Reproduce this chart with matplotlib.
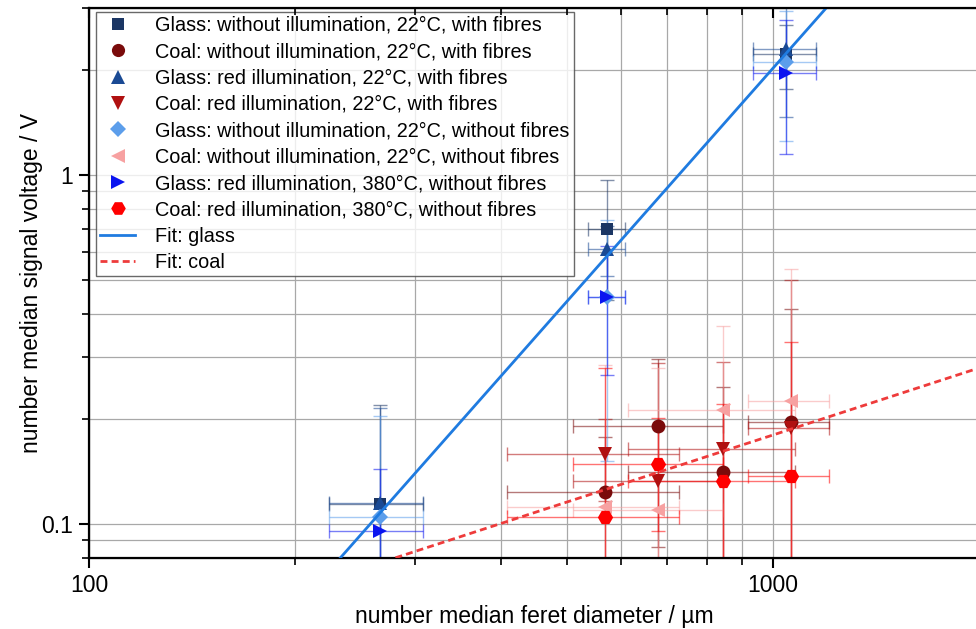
import numpy as np
import matplotlib
matplotlib.use("Agg")
import matplotlib.pyplot as plt
from matplotlib.lines import Line2D
from matplotlib.ticker import LogLocator, NullFormatter, FixedLocator, FixedFormatter

plt.rcParams['font.family'] = ['Liberation Sans', 'DejaVu Sans']

# glass samples: three size classes
glass_x = [266, 572, 1044]
glass_xerr = [42, 35, 110]
# coal samples: four size classes
coal_x = [568, 678, 846, 1063]
coal_xerr = [160, 168, 232, 145]

glass_dark_fib = [0.114, 0.701, 2.216]
glass_dark_fib_err = [0.105, 0.262, 0.46]
glass_red_fib = [0.115, 0.612, 2.29]
glass_red_fib_err = [0.10, 0.10, 0.83]
glass_dark_nofib = [0.1047, 0.447, 2.10]
glass_dark_nofib_err = [0.099, 0.295, 0.85]
glass_red380 = [0.0957, 0.447, 1.956]
glass_red380_err = [0.048, 0.179, 0.81]

coal_dark_fib = [0.1234, 0.191, 0.1408, 0.1966]
coal_dark_fib_err = [0.054, 0.105, 0.106, 0.217]
coal_red_fib = [0.1585, 0.1333, 0.164, 0.188]
coal_red_fib_err = [0.042, 0.155, 0.127, 0.31]
coal_dark_nofib = [0.112, 0.110, 0.212, 0.2256]
coal_dark_nofib_err = [0.173, 0.17, 0.157, 0.31]
coal_red380 = [0.105, 0.1487, 0.133, 0.1377]
coal_red380_err = [0.175, 0.053, 0.087, 0.195]

# power-law fits  y = A * (x/1000)^b
fit_glass = (2.02, 2.216)
fit_coal = (0.180, 0.637)

series = [
    ("Glass: without illumination, 22°C, with fibres", glass_x, glass_dark_fib, glass_xerr, glass_dark_fib_err, "s", "#1B3664", 9),
    ("Coal: without illumination, 22°C, with fibres", coal_x, coal_dark_fib, coal_xerr, coal_dark_fib_err, "o", "#7A0B0B", 10),
    ("Glass: red illumination, 22°C, with fibres", glass_x, glass_red_fib, glass_xerr, glass_red_fib_err, "^", "#1A4A94", 10),
    ("Coal: red illumination, 22°C, with fibres", coal_x, coal_red_fib, coal_xerr, coal_red_fib_err, "v", "#B01010", 10),
    ("Glass: without illumination, 22°C, without fibres", glass_x, glass_dark_nofib, glass_xerr, glass_dark_nofib_err, "D", "#5C9EEB", 8.5),
    ("Coal: without illumination, 22°C, without fibres", coal_x, coal_dark_nofib, coal_xerr, coal_dark_nofib_err, "<", "#F7A1A1", 10),
    ("Glass: red illumination, 380°C, without fibres", glass_x, glass_red380, glass_xerr, glass_red380_err, ">", "#0A14F0", 10),
    ("Coal: red illumination, 380°C, without fibres", coal_x, coal_red380, coal_xerr, coal_red380_err, "H", "#FF0000", 11),
]

fig = plt.figure(figsize=(9.76, 6.29), dpi=100)
ax = fig.add_axes([0.0912, 0.1129, 0.912, 0.8744])
ax.set_xscale("log")
ax.set_yscale("log")
ax.set_xlim(100, 2000)
ax.set_ylim(0.08, 3)

ax.grid(True, which="both", color="#a8a8a8", linewidth=0.9)
ax.set_axisbelow(True)

handles = []
for label, x, y, xe, ye, m, c, ms in series:
    ax.errorbar(x, y, xerr=xe, yerr=ye, fmt="none", ecolor=c, alpha=0.55,
                elinewidth=1.0, capsize=5, capthick=1.0, zorder=2)
    ax.plot(x, y, linestyle="none", marker=m, color=c, markersize=ms,
            markeredgewidth=0, zorder=3)
    handles.append(Line2D([], [], linestyle="none", marker=m, color=c,
                          markersize=ms - 0.5, markeredgewidth=0, label=label))

xf = np.logspace(2, np.log10(2000), 200)
ax.plot(xf, fit_glass[0] * (xf / 1000) ** fit_glass[1], color="#1F7BE0", lw=2.0, zorder=4)
ax.plot(xf, fit_coal[0] * (xf / 1000) ** fit_coal[1], color="#EE3B3B", lw=2.0,
        linestyle=(0, (2.5, 1.5)), zorder=4)
handles.append(Line2D([], [], color="#1F7BE0", lw=2.0, label="Fit: glass"))
handles.append(Line2D([], [], color="#EE3B3B", lw=2.0, linestyle=(0, (2.5, 1.5)), label="Fit: coal"))

ax.xaxis.set_major_locator(FixedLocator([100, 1000]))
ax.xaxis.set_major_formatter(FixedFormatter(["100", "1000"]))
ax.xaxis.set_minor_locator(LogLocator(base=10, subs=np.arange(2, 10)))
ax.xaxis.set_minor_formatter(NullFormatter())
ax.yaxis.set_major_locator(FixedLocator([0.1, 1]))
ax.yaxis.set_major_formatter(FixedFormatter(["0.1", "1"]))
ax.yaxis.set_minor_locator(LogLocator(base=10, subs=np.arange(2, 10)))
ax.yaxis.set_minor_formatter(NullFormatter())

ax.tick_params(which="major", direction="out", length=7, width=1.5, labelsize=16.5, pad=4.5)
ax.tick_params(which="minor", direction="out", length=5, width=1.2)
for s in ax.spines.values():
    s.set_linewidth(1.6)

# top axis with inward ticks
axt = ax.twiny()
axt.set_xscale("log")
axt.set_xlim(ax.get_xlim())
axt.xaxis.set_major_locator(FixedLocator([100, 1000]))
axt.xaxis.set_minor_locator(LogLocator(base=10, subs=np.arange(2, 10)))
axt.xaxis.set_major_formatter(NullFormatter())
axt.xaxis.set_minor_formatter(NullFormatter())
axt.tick_params(which="major", direction="in", length=7, width=1.5)
axt.tick_params(which="minor", direction="in", length=5, width=1.2)

ax.set_xlabel("number median feret diameter / µm", fontsize=16.5, labelpad=6)
ax.set_ylabel("number median signal voltage / V", fontsize=16.5, labelpad=-1)

leg = ax.legend(handles=handles, loc="upper left", bbox_to_anchor=(0.003, 1.0),
                fontsize=14.3, frameon=True, fancybox=False, edgecolor="#444444",
                handlelength=1.8, borderpad=0.2, labelspacing=0.37, handletextpad=1.0,
                borderaxespad=0.2)
leg.get_frame().set_linewidth(1.0)
leg.set_zorder(10)

fig.savefig("out.png", dpi=100)
